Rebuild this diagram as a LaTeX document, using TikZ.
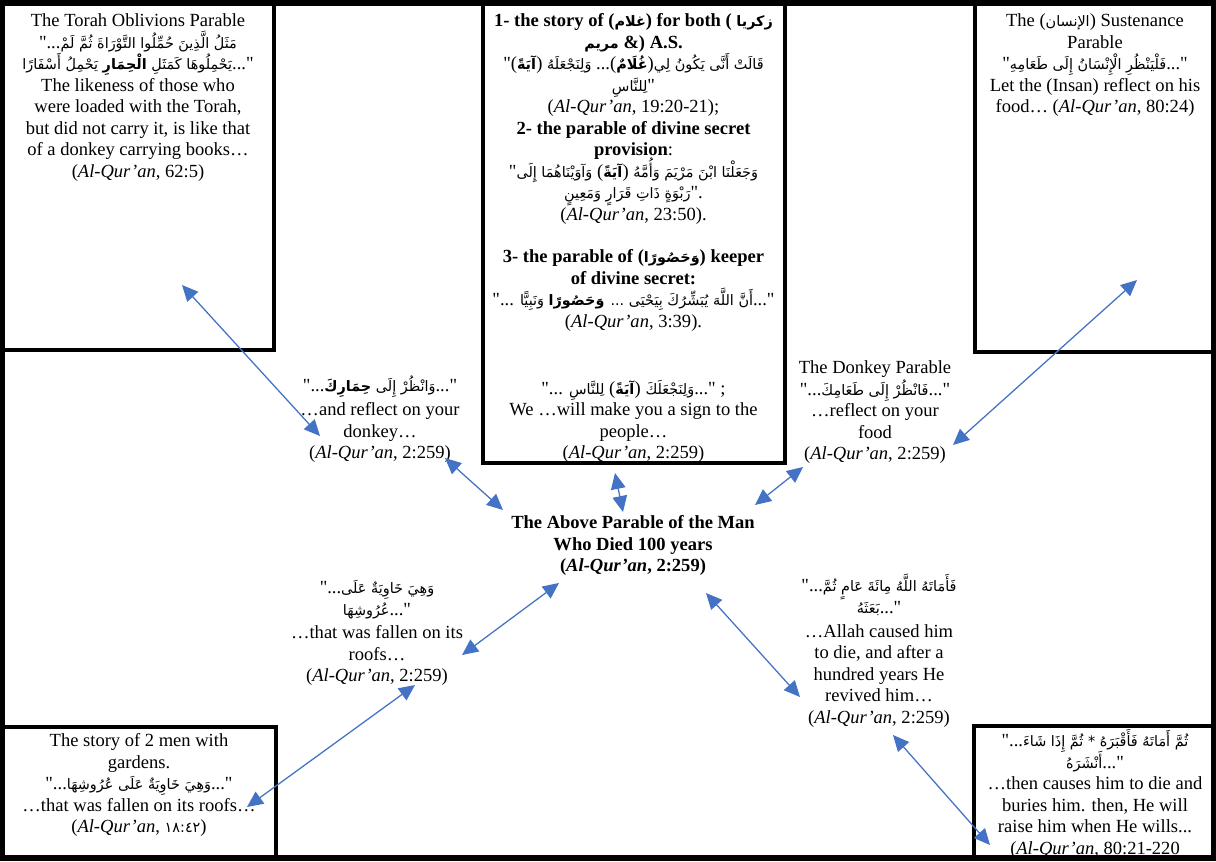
\documentclass[tikz,border=0pt]{standalone}
\usepackage{fontspec}
\setmainfont{Liberation Serif}[Ligatures=TeXOff]
\newfontfamily\arfont[Script=Arabic]{DejaVu Sans}
\TeXXeTstate=1
\usetikzlibrary{arrows.meta}
\definecolor{arrowblue}{HTML}{4472C4}
\AtBeginDocument{\lineskiplimit=-100pt\relax}
\newcommand{\arR}[1]{\raisebox{0pt}[9pt][3pt]{\arfont\fontsize{10.8}{16.1}\selectfont\beginR #1\endR}}
\newcommand{\arW}[1]{\raisebox{0pt}[9pt][3pt]{\arfont\fontsize{10.8}{16.1}\selectfont #1}}
\newcommand{\AQ}{\textit{Al-Qur’an}}
\begin{document}
\begin{tikzpicture}[x=0.75pt,y=-0.75pt,
  frame/.style={draw=black,line width=3.9pt},
  box/.style={draw=black,line width=3pt},
  txt/.style={align=center,inner sep=0pt,anchor=north,font=\fontsize{13.9}{16.1}\selectfont},
  conn/.style={draw=arrowblue,line width=0.95pt,arrows={Triangle[length=12pt,width=11pt]-Triangle[length=12pt,width=11pt]}}]
\useasboundingbox (0,0) rectangle (1216,861);
\fill[white] (0,0) rectangle (1216,861);
% frame and boxes
\draw[frame] (2,3) rectangle (1214,858);
\draw[box] (2,3) rectangle (274,350);
\draw[box] (482.5,3) rectangle (784.5,462.5);
\draw[box] (974.5,3) rectangle (1214,352);
\draw[box] (2,727) rectangle (275.5,858);
\draw[box] (974,725.5) rectangle (1214,858);
% texts
\node[txt] (torah) at (138,11.5) {\strut The Torah Oblivions Parable\\
"...\arR{مَثَلُ الَّذِينَ حُمِّلُوا التَّوْرَاةَ ثُمَّ لَمْ}\\
\arR{يَحْمِلُوهَا كَمَثَلِ \textbf{الْحِمَارِ} يَحْمِلُ أَسْفَارًا}..."\\
The likeness of those who\\
were loaded with the Torah,\\
but did not carry it, is like that\\
of a donkey carrying books…\\
(\AQ, 62:5)};
\node[txt] (stories) at (633.5,11.5) {\strut\textbf{1- the story of (\arW{غلام}) for both ( \arW{زكريا}}\\
\textbf{\arW{مريم} \&) A.S.}\\
"(\arW{\textbf{آيَةً}}) \arW{وَلِنَجْعَلَهُ} ...(\arW{\textbf{غُلَامٌ}})\arW{لِي} \arR{قَالَتْ أَنَّى يَكُونُ}\\
\arW{لِلنَّاسِ}"\\
(\AQ, 19:20-21);\\
\textbf{2- the parable of divine secret}\\
\textbf{provision}:\\
"\arR{وَآوَيْنَاهُمَا إِلَى} (\arW{\textbf{آيَةً}}) \arR{وَجَعَلْنَا ابْنَ مَرْيَمَ وَأُمَّهُ}\\
\arR{رَبْوَةٍ ذَاتِ قَرَارٍ وَمَعِينٍ}".\\
(\AQ, 23:50).\\[16.1pt]
\textbf{3- the parable of (\arW{وَحَصُورًا}) keeper}\\
\textbf{of divine secret:}\\
"... \arR{أَنَّ اللَّهَ يُبَشِّرُكَ بِيَحْيَى ... \textbf{وَحَصُورًا} وَنَبِيًّا}..."\\
(\AQ, 3:39).\\[34pt]
"... \arW{لِلنَّاسِ} (\arW{\textbf{آيَةً}}) \arW{وَلِنَجْعَلَكَ}..." ;\\
We …will make you a sign to the\\
people…\\
(\AQ, 2:259)};
\node[txt] (insan) at (1095,11.5) {\strut The (\arW{الإنسان}) Sustenance\\
Parable\\
"\arR{فَلْيَنْظُرِ الْإِنْسَانُ إِلَى طَعَامِهِ}..."\\
Let the (Insan) reflect on his\\
food… (\AQ, 80:24)};
\node[txt] (donkey) at (380,376.5) {\strut"...\arR{وَانْظُرْ إِلَى \textbf{حِمَارِكَ}}..."\\[2pt]
…and reflect on your\\
donkey…\\
(\AQ, 2:259)};
\node[txt] (food) at (875,358.5) {\strut The Donkey Parable\\
"...\arR{فَانْظُرْ إِلَى طَعَامِكَ}..."\\
…reflect on your\\
food\\
(\AQ, 2:259)};
\node[txt,font=\fontsize{13.9}{16.1}\selectfont\bfseries] (main) at (633,513.5) {\strut The Above Parable of the Man\\
Who Died 100 years\\
(\AQ, 2:259)};
\node[txt] (fallen) at (377,578.5) {\strut"...\arR{وَهِيَ خَاوِيَةٌ عَلَى}\\
\arR{عُرُوشِهَا}..."\\[1.5pt]
…that was fallen on its\\
roofs…\\
(\AQ, 2:259)};
\node[txt] (revived) at (879,576.5) {\strut"...\arR{فَأَمَاتَهُ اللَّهُ مِائَةَ عَامٍ ثُمَّ}\\
\arR{بَعَثَهُ}..."\\[2pt]
…Allah caused him\\
to die, and after a\\
hundred years He\\
revived him…\\
(\AQ, 2:259)};
\node[txt] (gardens) at (139,731.5) {\strut The story of 2 men with\\
gardens.\\
"...\arR{وَهِيَ خَاوِيَةٌ عَلَى عُرُوشِهَا}..."\\
…that was fallen on its roofs…\\
(\AQ, \arW{١٨:٤٢})};
\node[txt] (raise) at (1095,731.5) {\strut"...\arR{ثُمَّ أَمَاتَهُ فَأَقْبَرَهُ * ثُمَّ إِذَا شَاءَ}\\
\arR{أَنْشَرَهُ}..."\\
…then causes him to die and\\
buries him. then, He will\\
raise him when He wills...\\
(\AQ, 80:21-220};
% connector ends
\coordinate (t1) at (182,285); \coordinate (d1) at (320,436);
\coordinate (d2) at (445,458); \coordinate (m1) at (503,510);
\coordinate (c1) at (615,473); \coordinate (m2) at (623,512);
\coordinate (f1) at (803,467); \coordinate (m3) at (755,505);
\coordinate (s1) at (1137,280); \coordinate (f2) at (953,445);
\coordinate (m4) at (559,583); \coordinate (r1) at (462,655);
\coordinate (r2) at (415,685); \coordinate (g1) at (247,807);
\coordinate (m5) at (706,593); \coordinate (h1) at (800,697);
\coordinate (h2) at (893,735); \coordinate (b1) at (990,845);
\draw[conn] (t1) -- (d1);
\draw[conn] (d2) -- (m1);
\draw[conn] (c1) -- (m2);
\draw[conn] (f1) -- (m3);
\draw[conn] (s1) -- (f2);
\draw[conn] (m4) -- (r1);
\draw[conn] (r2) -- (g1);
\draw[conn] (m5) -- (h1);
\draw[conn] (h2) -- (b1);
\end{tikzpicture}
\end{document}
